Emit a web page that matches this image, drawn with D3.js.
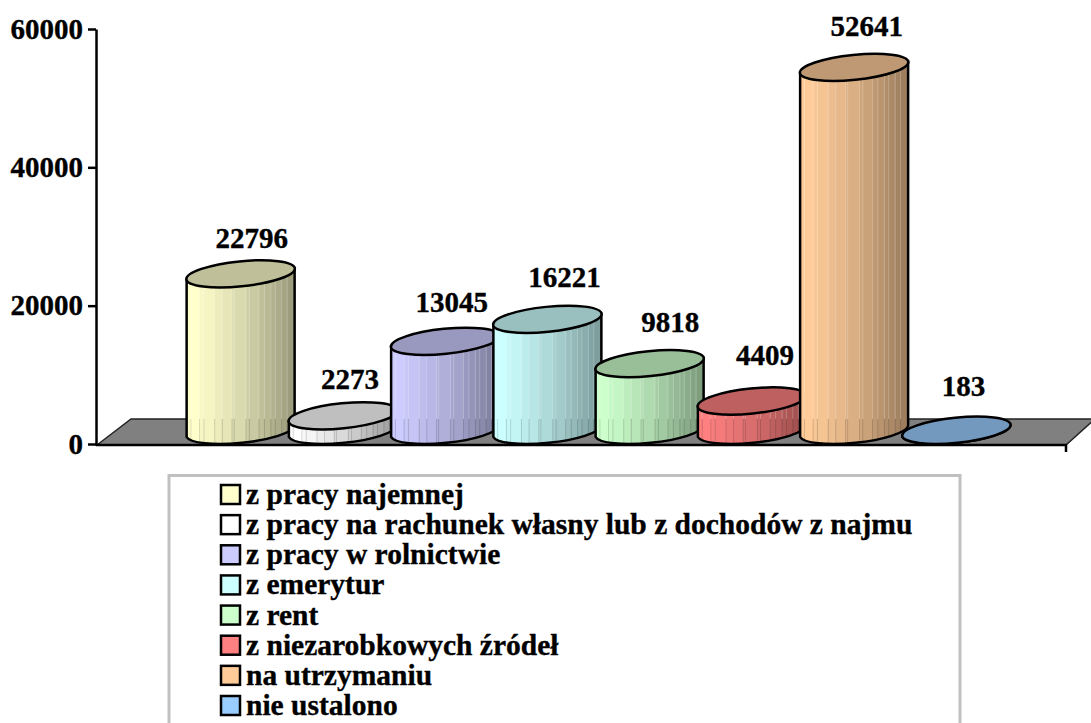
<!DOCTYPE html>
<html>
<head>
<meta charset="utf-8">
<script src="https://cdn.jsdelivr.net/npm/d3@7"></script>
<style>
    html, body { margin: 0; padding: 0; background: #fff; overflow: hidden; }
    text { font-family: "Liberation Serif", serif; font-weight: bold; fill: #000; stroke: #000; stroke-width: .35px; }
</style>
</head>
<body>
<svg id="svg" width="1091" height="723"></svg>
<script>
const categories = ['z pracy najemnej', 'z pracy na rachunek własny lub z dochodów z najmu',
    'z pracy w rolnictwie', 'z emerytur', 'z rent', 'z niezarobkowych źródeł', 'na utrzymaniu', 'nie ustalono'];
const values = [22796, 2273, 13045, 16221, 9818, 4409, 52641, 183];
const colors = ['#ffffcc', '#ffffff', '#ccccff', '#ccffff', '#ccffcc', '#ff8080', '#ffcc99', '#99ccff'];
const yTicks = [0, 20000, 40000, 60000];
// hand nudges for the value labels, relative to the top of each cylinder
const labelDx = [11, 7, 6.5, 17, 20.5, 13, 12.5, 7];
const labelDy = [-26, -27, -29, -32, -32, -36, -31, -34];
// widths of the facets round the cylinder wall, as fractions
const facets = [0, .04, .12, .16, .26, .33, .42, .44, .55, .58, .67, .72, .78, .82, .88, .93, 1];

const svg = d3.select('#svg');
const param = { barWidth: 108, rx: 54.5, ry: 12.5, tilt: -5.8, depth: 12.5, floorTop: 419, floorFront: 445 };

const y = d3.scaleLinear().domain([0, 60000]).range([444, 29]);
const x = d3.scaleBand().domain(categories).range([189.5, 1007.5]);

// floor
svg.append('polygon')
    .attr('points', [[97, param.floorFront], [131, param.floorTop], [1095, param.floorTop], [1066, param.floorFront]].join(' '))
    .attr('fill', '#808080')
    .attr('stroke', '#222')
    .attr('stroke-width', 1.5);
svg.append('path')
    .attr('d', `M96,${param.floorFront}H1066V452`)
    .attr('fill', 'none')
    .attr('stroke', '#000')
    .attr('stroke-width', 2.5);

// y axis
const axis = svg.append('g')
    .attr('transform', 'translate(96,0)')
    .call(d3.axisLeft(y).tickValues(yTicks).tickSize(8).tickSizeOuter(0).tickPadding(5).tickFormat(d3.format('d')));
axis.select('.domain').attr('stroke', '#000').attr('stroke-width', 2.5);
axis.selectAll('.tick line').attr('stroke', '#000').attr('stroke-width', 2.5);
axis.selectAll('text').style('font-family', '"Liberation Serif", serif').style('font-weight', 'bold').style('font-size', '29px');

function shade(color, k) {
    const c = d3.rgb(color);
    return d3.rgb(c.r * k, c.g * k, c.b * k).toString();
}

const defs = svg.append('defs');
const dx = param.barWidth / 2;
const dy = dx * Math.tan(-param.tilt * Math.PI / 180);

categories.forEach((name, i) => {
    const cx = x(name) + x.bandwidth() / 2;
    const base = y(0) - param.depth;
    const top = base - (y(0) - y(values[i]));
    const wall = `M${cx - dx},${top + dy}L${cx - dx},${base + dy}`
        + `A${param.rx},${param.ry} ${param.tilt} 0 0 ${cx + dx},${base - dy}`
        + `L${cx + dx},${top - dy}Z`;
    const g = svg.append('g');

    defs.append('clipPath').attr('id', `wall-${i}`).append('path').attr('d', wall);
    const stripes = g.append('g').attr('clip-path', `url(#wall-${i})`);
    const left = cx - dx;
    stripes.selectAll('rect.facet')
        .data(d3.pairs(facets))
        .join('rect')
        .attr('class', 'facet')
        .attr('x', d => left + d[0] * param.barWidth)
        .attr('y', top - 20)
        .attr('width', d => (d[1] - d[0]) * param.barWidth + .5)
        .attr('height', base - top + 50)
        .attr('fill', d => shade(colors[i], d[0] < .06 ? 1 : 1 - .42 * Math.pow(d[0], 1.3)));
    // thin lighter seams on the wall, darker ones where it passes the floor
    stripes.selectAll('line.seam')
        .data(facets.slice(1, -1))
        .join('line')
        .attr('class', 'seam')
        .attr('x1', d => left + d * param.barWidth)
        .attr('x2', d => left + d * param.barWidth)
        .attr('y1', top - 20)
        .attr('y2', param.floorTop)
        .attr('stroke', '#fff')
        .attr('stroke-opacity', .22);
    stripes.selectAll('line.low')
        .data(facets.slice(1, -1))
        .join('line')
        .attr('class', 'low')
        .attr('x1', d => left + d * param.barWidth)
        .attr('x2', d => left + d * param.barWidth)
        .attr('y1', Math.max(param.floorTop, top))
        .attr('y2', param.floorFront)
        .attr('stroke', '#000')
        .attr('stroke-opacity', .14);

    g.append('path')
        .attr('d', wall)
        .attr('fill', 'none')
        .attr('stroke', '#000')
        .attr('stroke-width', 2.5);
    g.append('ellipse')
        .attr('cx', 0).attr('cy', 0)
        .attr('rx', param.rx).attr('ry', param.ry)
        .attr('transform', `translate(${cx},${top}) rotate(${param.tilt})`)
        .attr('fill', shade(colors[i], .75))
        .attr('stroke', '#000')
        .attr('stroke-width', 2.5);
});

// value labels sit above all the cylinders
svg.append('g').selectAll('text')
    .data(values)
    .join('text')
    .attr('x', (d, i) => x(categories[i]) + x.bandwidth() / 2 + labelDx[i])
    .attr('y', (d, i) => y(d) - param.depth + labelDy[i])
    .attr('text-anchor', 'middle')
    .style('font-size', '29px')
    .text(d => d);

// legend, runs off the bottom of the page
svg.append('rect')
    .attr('x', 169).attr('y', 475.5)
    .attr('width', 791).attr('height', 270)
    .attr('fill', '#fff')
    .attr('stroke', '#c0c0c0')
    .attr('stroke-width', 3);

const rowY = d3.scalePoint().domain(categories).range([495, 706]);
const rows = svg.append('g').selectAll('g')
    .data(categories)
    .join('g')
    .attr('transform', d => `translate(0,${rowY(d)})`);
rows.append('rect')
    .attr('x', 221).attr('y', -10)
    .attr('width', 19).attr('height', 19)
    .attr('fill', (d, i) => colors[i])
    .attr('stroke', '#000')
    .attr('stroke-width', 2.5);
rows.append('text')
    .attr('x', 246).attr('y', 9)
    .style('font-size', '29.5px')
    .text(d => d);
</script>
</body>
</html>
